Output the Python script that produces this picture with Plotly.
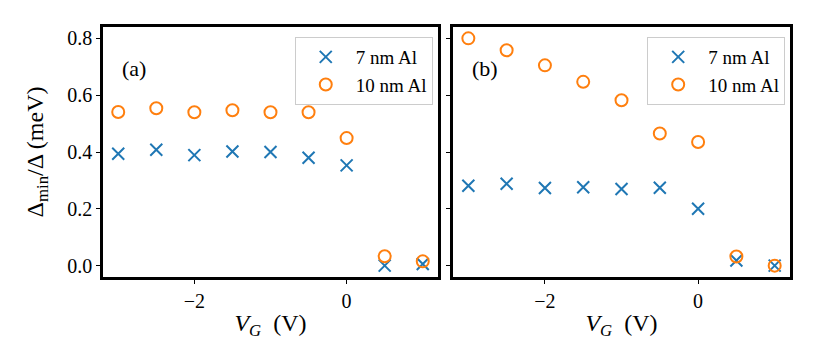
import plotly.graph_objects as go
from plotly.subplots import make_subplots

# Datos
vg = [-3.0, -2.5, -2.0, -1.5, -1.0, -0.5, 0.0, 0.5, 1.0]

a_7nm = [0.394, 0.408, 0.389, 0.402, 0.400, 0.380, 0.353, 0.000, 0.006]
a_10nm = [0.541, 0.554, 0.540, 0.547, 0.540, 0.540, 0.449, 0.033, 0.015]

b_7nm = [0.281, 0.288, 0.273, 0.276, 0.270, 0.274, 0.200, 0.018, 0.000]
b_10nm = [0.800, 0.758, 0.705, 0.647, 0.582, 0.465, 0.435, 0.032, 0.000]

labels = ["7 nm Al", "10 nm Al"]
panel_tags = ["(a)", "(b)"]

BLUE = "#1f77b4"
ORANGE = "#ff7f0e"
FONT = "Liberation Serif"

fig = make_subplots(rows=1, cols=2, shared_yaxes=True)

for col, (s7, s10) in enumerate([(a_7nm, a_10nm), (b_7nm, b_10nm)], start=1):
    leg = "legend" if col == 1 else "legend2"
    fig.add_trace(go.Scatter(
        x=vg, y=s7, mode="markers", name=labels[0], legend=leg,
        marker=dict(symbol="x-thin-open", size=12, line=dict(color=BLUE, width=2), color=BLUE)
    ), row=1, col=col)
    fig.add_trace(go.Scatter(
        x=vg, y=s10, mode="markers", name=labels[1], legend=leg,
        marker=dict(symbol="circle-open", size=12, line=dict(color=ORANGE, width=2), color=ORANGE)
    ), row=1, col=col)

axis_style = dict(
    showline=True, linecolor="black", linewidth=2.5, mirror=True,
    ticks="outside", ticklen=4, tickwidth=1, tickcolor="black",
    showgrid=False, zeroline=False,
    tickfont=dict(family=FONT, size=20, color="black"),
)

fig.update_xaxes(**axis_style, range=[-3.2, 1.2], tickvals=[-2, 0], ticktext=["\u22122", "0"])
fig.update_xaxes(title=dict(text="<i>V</i><sub><i>G</i></sub>  (V)", font=dict(family=FONT, size=24, color="black"), standoff=4))
fig.update_xaxes(domain=[0, 0.4876], row=1, col=1)
fig.update_xaxes(domain=[0.5095, 1], row=1, col=2)
fig.update_yaxes(**axis_style, range=[-0.04, 0.84], tickvals=[0, 0.2, 0.4, 0.6, 0.8], tickformat=".1f")
fig.update_yaxes(title=dict(text="\u0394<sub>min</sub>/\u0394 (meV)", font=dict(family=FONT, size=24, color="black"), standoff=17), row=1, col=1)
fig.update_yaxes(showticklabels=False, row=1, col=2)

for i, tag in enumerate(panel_tags):
    xref = "x domain" if i == 0 else "x2 domain"
    yref = "y domain" if i == 0 else "y2 domain"
    fig.add_annotation(text=tag, xref=xref, yref=yref, x=0.05, y=0.836, showarrow=False,
                       xanchor="left", yanchor="middle", font=dict(family=FONT, size=22, color="black"))

legend_style = dict(
    bgcolor="rgba(255,255,255,0.8)", bordercolor="#cccccc", borderwidth=1,
    font=dict(family=FONT, size=19, color="black"),
    xanchor="right", yanchor="top", y=0.96, tracegroupgap=0, itemwidth=50,
)

fig.update_layout(
    width=830, height=346,
    plot_bgcolor="white", paper_bgcolor="white",
    margin=dict(l=95, r=48, t=19, b=77),
    legend=dict(**legend_style, x=0.48),
    legend2=dict(**legend_style, x=0.993),
)

fig.write_html("out.html")
